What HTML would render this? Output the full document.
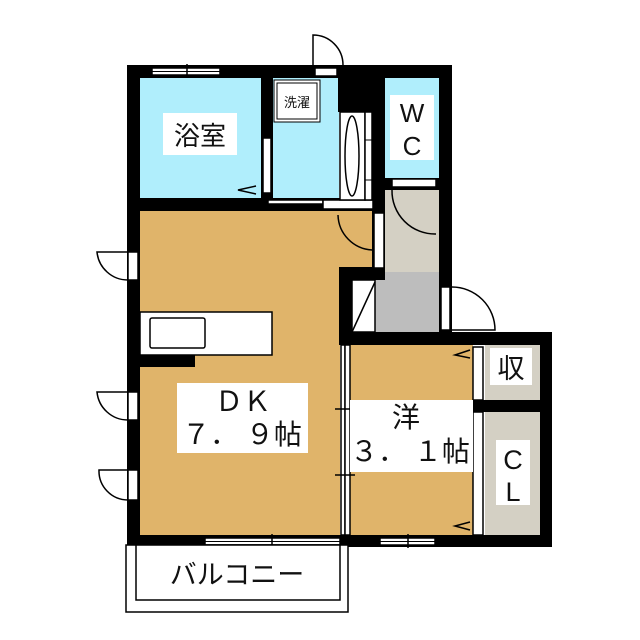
<!DOCTYPE html>
<html><head><meta charset="utf-8"><style>
html,body{margin:0;padding:0;background:#fff;}
svg{display:block;}
text{font-family:"Liberation Sans","Noto Sans CJK JP",sans-serif;fill:#111;}
</style></head><body>
<svg width="640" height="640" viewBox="0 0 640 640" xmlns="http://www.w3.org/2000/svg">
<rect x="140" y="78" width="121" height="120" fill="#b0eefc"/>
<rect x="273" y="78" width="66" height="120" fill="#b0eefc"/>
<rect x="385" y="78" width="54" height="100" fill="#b0eefc"/>
<rect x="385" y="190" width="55" height="84" fill="#d4d0c4"/>
<rect x="375" y="272" width="65" height="60" fill="#bdbdbd"/>
<rect x="140" y="211" width="232" height="56" fill="#e0b46a"/>
<rect x="140" y="267" width="200" height="268" fill="#e0b46a"/>
<rect x="350" y="345" width="123" height="190" fill="#e0b46a"/>
<rect x="485" y="345" width="55" height="55" fill="#d4d0c4"/>
<rect x="485" y="412" width="55" height="123" fill="#d4d0c4"/>
<g fill="#000">
<rect x="127" y="65" width="325" height="13"/>
<rect x="127" y="65" width="13" height="482"/>
<rect x="439" y="65" width="13" height="280"/>
<rect x="261" y="78" width="12" height="133"/>
<rect x="338" y="65" width="47" height="47"/>
<rect x="372" y="65" width="13" height="210"/>
<rect x="140" y="198" width="245" height="13"/>
<rect x="385" y="178" width="55" height="12"/>
<rect x="339" y="267" width="46" height="13"/>
<rect x="339" y="267" width="13" height="78"/>
<rect x="339" y="332" width="213" height="13"/>
<rect x="540" y="332" width="12" height="215"/>
<rect x="472" y="400" width="80" height="12"/>
<rect x="127" y="535" width="425" height="12"/>
<rect x="140" y="355" width="55" height="12"/>
</g>
<g fill="#fff" stroke="#000" stroke-width="1.5">
<rect x="152" y="68" width="68" height="7"/>
<rect x="315" y="68" width="22" height="8"/>
<rect x="205" y="538" width="135" height="7"/>
<rect x="380" y="538" width="55" height="7"/>
<rect x="128" y="252" width="10" height="28"/>
<rect x="128" y="392" width="10" height="28"/>
<rect x="128" y="470" width="10" height="30"/>
<rect x="441" y="287" width="9" height="43"/>
<rect x="392" y="179" width="44" height="8"/>
<rect x="263" y="138" width="8" height="55"/>
<rect x="268" y="200" width="55" height="4"/>
<rect x="323" y="200" width="50" height="9"/>
<rect x="374" y="213" width="10" height="55"/>
<rect x="341" y="345" width="4" height="190"/>
<rect x="345" y="345" width="5" height="190"/>
<rect x="473" y="347" width="10" height="53"/>
<rect x="473" y="412" width="10" height="123"/>
<rect x="340" y="112" width="25" height="88"/>
<rect x="365" y="112" width="7" height="88"/>
<rect x="352" y="280" width="23" height="52"/>
</g>
<line x1="152" y1="71.5" x2="220" y2="71.5" stroke="#000" stroke-width="1"/>
<line x1="187" y1="64" x2="187" y2="78" stroke="#000" stroke-width="1.5"/>
<line x1="205" y1="541.5" x2="340" y2="541.5" stroke="#000" stroke-width="1"/>
<line x1="272" y1="534" x2="272" y2="548" stroke="#000" stroke-width="1.5"/>
<line x1="380" y1="541.5" x2="435" y2="541.5" stroke="#000" stroke-width="1"/>
<line x1="408" y1="534" x2="408" y2="548" stroke="#000" stroke-width="1.5"/>
<line x1="335" y1="409" x2="355" y2="409" stroke="#000" stroke-width="1.5"/>
<line x1="335" y1="475" x2="355" y2="475" stroke="#000" stroke-width="1.5"/>
<line x1="352" y1="332" x2="375" y2="282" stroke="#000" stroke-width="1.5"/>
<ellipse cx="352" cy="156" rx="7" ry="40" fill="#fff" stroke="#000" stroke-width="1.5"/>
<line x1="365" y1="140" x2="372" y2="140" stroke="#000"/><line x1="365" y1="180" x2="372" y2="180" stroke="#000"/>
<g fill="none" stroke="#000" stroke-width="1.5">
<path d="M313 65 V35 A30 30 0 0 1 343 65"/>
<path d="M128 252 H97 A31 31 0 0 0 128 280"/>
<path d="M128 392 H97 A31 31 0 0 0 128 420"/>
<path d="M128 470 H99 A29 29 0 0 0 128 500"/>
<path d="M452 287 A43 43 0 0 1 495 330 H452"/>
<path d="M392 190 A43 43 0 0 0 436 234"/>
<path d="M338 215 A36 36 0 0 0 372 250"/>
<path d="M256 186 L238 190 L256 194"/>
<path d="M470 350 L455 355 L470 358"/>
<path d="M470 415 L455 419 L470 423"/>
<path d="M470 522 L455 526 L470 530"/>
</g>
<rect x="274" y="80" width="46" height="42" fill="#fff" stroke="#000" stroke-width="1"/>
<rect x="277" y="83" width="40" height="36" fill="#fff" stroke="#000" stroke-width="1"/>
<text x="297" y="107" font-size="13" text-anchor="middle">洗濯</text>
<rect x="140" y="312" width="132" height="43" fill="#fff" stroke="#000" stroke-width="1.5"/>
<rect x="150" y="318" width="55" height="30" fill="#fff" stroke="#000" stroke-width="1.5" rx="2"/>
<rect x="126" y="545" width="222" height="67" fill="#fff" stroke="#000" stroke-width="1.5"/>
<rect x="136" y="545" width="204" height="55" fill="#fff" stroke="#000" stroke-width="1.5"/>
<text x="237" y="584" font-size="27" text-anchor="middle">バルコニー</text>
<rect x="163" y="113" width="74" height="42" fill="#fff"/>
<text x="200" y="145" font-size="26" text-anchor="middle">浴室</text>
<rect x="390" y="95" width="44" height="65" fill="#fff"/>
<text x="412" y="122" font-size="26" text-anchor="middle">W</text>
<text x="412" y="155" font-size="26" text-anchor="middle">C</text>
<rect x="177" y="383" width="131" height="70" fill="#fff"/>
<text x="243" y="411" font-size="28" text-anchor="middle">ＤＫ</text>
<text x="242" y="444" font-size="28" text-anchor="middle">７． ９帖</text>
<rect x="350" y="400" width="123" height="72" fill="#fff"/>
<text x="406" y="427" font-size="28" text-anchor="middle">洋</text>
<text x="410" y="461" font-size="28" text-anchor="middle">３． １帖</text>
<rect x="490" y="348" width="42" height="37" fill="#fff"/>
<text x="511" y="378" font-size="27" text-anchor="middle">収</text>
<rect x="496" y="440" width="34" height="65" fill="#fff"/>
<text x="513" y="469" font-size="27" text-anchor="middle">C</text>
<text x="513" y="501" font-size="27" text-anchor="middle">L</text>
</svg>
</body></html>
